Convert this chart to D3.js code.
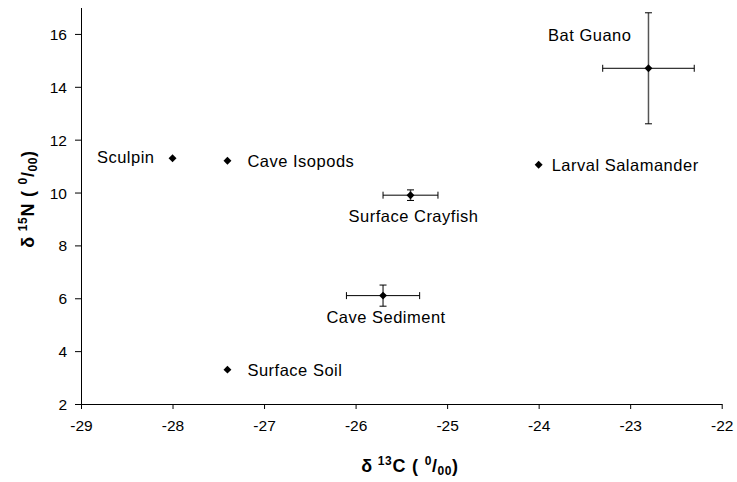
<!DOCTYPE html>
<html><head><meta charset="utf-8">
<script src="https://cdn.jsdelivr.net/npm/d3@7"></script>
<style>body{margin:0;background:#fff}svg{display:block}text{font-family:"Liberation Sans",Arial,sans-serif}</style>
</head><body>
<script>
const names = ["Sculpin","Cave Isopods","Bat Guano","Larval Salamander","Surface Crayfish","Cave Sediment","Surface Soil"];
const d13C = [-28.0,-27.4,-22.8,-24.0,-25.4,-25.7,-27.4];
const d15N = [11.3,11.2,14.7,11.05,9.9,6.1,3.3];
const errC = [0,0,0.5,0,0.3,0.4,0];
const errN = [0,0,2.1,0,0.2,0.4,0];
const labelPos = ["left","right","aboveLeft","right","below","below","right"];
const xTicks = [-29,-28,-27,-26,-25,-24,-23,-22];
const yTicks = [2,4,6,8,10,12,14,16];

const W=737,H=482;
const svg=d3.select("body").append("svg").attr("width",W).attr("height",H);
const x=d3.scaleLinear().domain([-29,-22]).range([81,721.7]);
const y=d3.scaleLinear().domain([2,17]).range([404,7.5]);

const xAxis=svg.append("g").attr("transform","translate(0,404)")
  .call(d3.axisBottom(x).tickValues(xTicks).tickSize(5).tickPadding(9).tickSizeOuter(0).tickFormat(d=>String(d)));
const yAxis=svg.append("g").attr("transform","translate(81,0)")
  .call(d3.axisLeft(y).tickValues(yTicks).tickSize(6).tickPadding(8).tickSizeOuter(0).tickFormat(d=>String(d)));
[xAxis,yAxis].forEach(g=>{
  g.selectAll("text").attr("font-size",15.5).attr("fill","#000").attr("font-family","Liberation Sans, Arial, sans-serif");
  g.select(".domain").attr("stroke","#000");
  g.selectAll(".tick line").attr("stroke","#000");
});
yAxis.selectAll("text").attr("dy","0.36em");
xAxis.selectAll("text").attr("dy","0.85em");

const data=names.map((n,i)=>({n,c:d13C[i],v:d15N[i],ec:errC[i],en:errN[i],p:labelPos[i]}));
const cap=3.5;
const g=svg.append("g");
data.forEach(d=>{
  if(d.ec>0){
    g.append("line").attr("x1",x(d.c-d.ec)).attr("x2",x(d.c+d.ec)).attr("y1",y(d.v)).attr("y2",y(d.v)).attr("stroke","#000").attr("stroke-width",1);
    [d.c-d.ec,d.c+d.ec].forEach(e=>g.append("line").attr("x1",x(e)).attr("x2",x(e)).attr("y1",y(d.v)-cap).attr("y2",y(d.v)+cap).attr("stroke","#000"));
  }
  if(d.en>0){
    g.append("line").attr("x1",x(d.c)).attr("x2",x(d.c)).attr("y1",y(d.v-d.en)).attr("y2",y(d.v+d.en)).attr("stroke","#555").attr("stroke-width",1.5);
    [d.v-d.en,d.v+d.en].forEach(e=>g.append("line").attr("x1",x(d.c)-cap).attr("x2",x(d.c)+cap).attr("y1",y(e)).attr("y2",y(e)).attr("stroke","#000"));
  }
});
g.selectAll("path.pt").data(data).join("path").attr("class","pt")
  .attr("d",d3.symbol(d3.symbolDiamond2,40))
  .attr("transform",d=>`translate(${x(d.c)},${y(d.v)})`).attr("fill","#000");

g.selectAll("text.lbl").data(data).join("text").attr("class","lbl")
  .attr("font-size",16.5).attr("letter-spacing",0.5).attr("fill","#000")
  .each(function(d){
    const t=d3.select(this).text(d.n);
    const px=x(d.c),py=y(d.v);
    if(d.p==="left") t.attr("x",px-18).attr("y",py+5).attr("text-anchor","end");
    else if(d.p==="right") t.attr("x",px+(d.n==="Larval Salamander"?13:20)).attr("y",py+6).attr("text-anchor","start");
    else if(d.p==="below") t.attr("x",px+3).attr("y",py+27).attr("text-anchor","middle");
    else if(d.p==="aboveLeft") t.attr("x",px-17).attr("y",py-27).attr("text-anchor","end");
  });

// axis titles
function title(sel,iso,letter){
  sel.append("tspan").text("δ");
  sel.append("tspan").text(iso).attr("font-size",12).attr("dx",5).attr("dy",-7);
  sel.append("tspan").text(letter).attr("dy",7);
  sel.append("tspan").text("(").attr("dx",6);
  sel.append("tspan").text("0").attr("font-size",12).attr("dx",6).attr("dy",-7);
  sel.append("tspan").text("/").attr("dy",7);
  sel.append("tspan").text("00").attr("font-size",12).attr("dy",3);
  sel.append("tspan").text(")").attr("dy",-3);
}
const xt=svg.append("text").attr("x",410).attr("y",472).attr("text-anchor","middle").attr("font-size",18).attr("letter-spacing",0.6).attr("font-weight","bold");
title(xt,"13","C");
const yt=svg.append("text").attr("transform","translate(34,199) rotate(-90)").attr("text-anchor","middle").attr("font-size",18).attr("letter-spacing",0.6).attr("font-weight","bold");
title(yt,"15","N");
</script>
</body></html>
